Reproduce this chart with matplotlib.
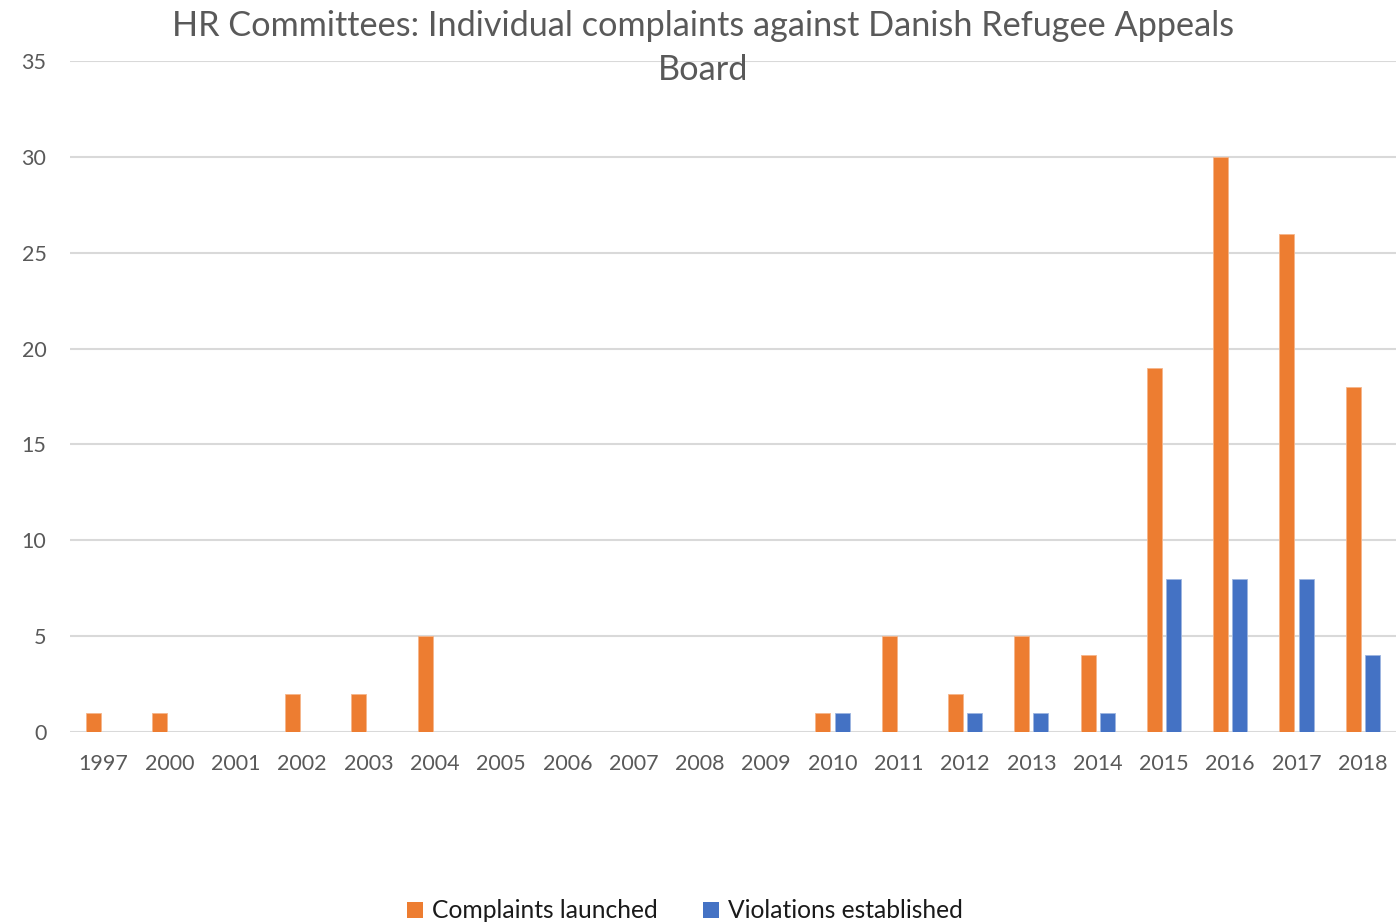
import matplotlib
matplotlib.use("Agg")
import matplotlib.pyplot as plt
import numpy as np
from matplotlib.patches import Patch

years = ["1997", "2000", "2001", "2002", "2003", "2004", "2005", "2006", "2007", "2008",
         "2009", "2010", "2011", "2012", "2013", "2014", "2015", "2016", "2017", "2018"]
complaints = [1, 1, 0, 2, 2, 5, 0, 0, 0, 0, 0, 1, 5, 2, 5, 4, 19, 30, 26, 18]
violations = [0, 0, 0, 0, 0, 0, 0, 0, 0, 0, 0, 1, 0, 1, 1, 1, 8, 8, 8, 4]
yticks = [0, 5, 10, 15, 20, 25, 30, 35]

title = "HR Committees: Individual complaints against Danish Refugee Appeals\nBoard"
labels = ["Complaints launched", "Violations established"]
orange = "#ED7D31"
blue = "#4472C4"
txt = "#595959"

plt.rcParams['font.family'] = ['Lato', 'DejaVu Sans']

W, H = 1398, 923
fig = plt.figure(figsize=(W / 100, H / 100), dpi=100)
ax = fig.add_axes([70 / W, 1 - 732 / H, (1396 - 70) / W, (732 - 61) / H])

x = np.arange(len(years))
bw = 0.226
off = 0.145
ax.bar(x - off, complaints, width=bw, color=orange, edgecolor="#F5B58A", linewidth=0.6, zorder=3)
ax.bar(x + off, violations, width=bw, color=blue, edgecolor="#9DB5E0", linewidth=0.6, zorder=3)

ax.set_xlim(-0.5, len(years) - 0.5)
ax.set_ylim(0, 35)
ax.set_yticks(yticks)
ax.set_yticklabels([str(v) for v in yticks])
ax.set_xticks(x)
ax.set_xticklabels(years)
ax.tick_params(axis='both', length=0, labelsize=15.5, colors=txt)
ax.tick_params(axis='x', pad=16)
ax.tick_params(axis='y', pad=17)
ax.grid(axis='y', color="#D9D9D9", linewidth=1.5, zorder=0)
ax.set_axisbelow(True)
for s in ax.spines.values():
    s.set_visible(False)

fig.text(703 / W, 1 - 48 / H, title, ha='center', va='center', fontsize=24.7,
         color=txt, linespacing=1.45)

handles = [Patch(facecolor=orange), Patch(facecolor=blue)]
fig.legend(handles, labels, loc='center', bbox_to_anchor=(685 / W, 1 - 911 / H),
           ncol=2, frameon=False, fontsize=17.7, handlelength=0.65, handleheight=0.65,
           handletextpad=0.35, columnspacing=1.85, labelcolor="#1a1a1a")

fig.savefig("out.png", dpi=100)
